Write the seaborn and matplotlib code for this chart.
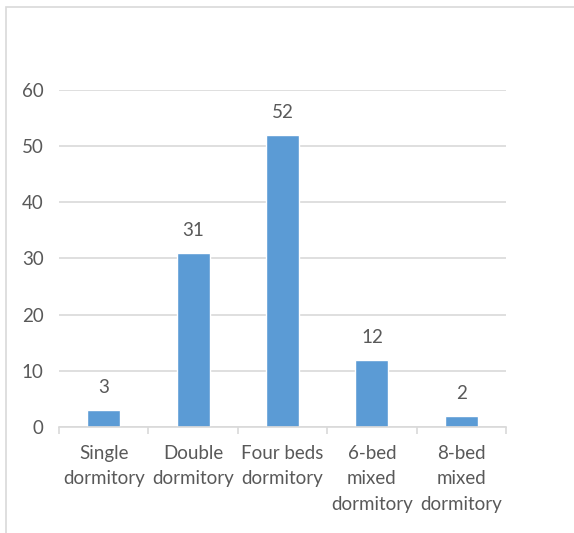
import matplotlib
matplotlib.use("Agg")
import matplotlib.pyplot as plt
import seaborn as sns
import pandas as pd
from matplotlib.patches import Rectangle
from matplotlib.ticker import FixedLocator

categories = ["Single\ndormitory", "Double\ndormitory", "Four beds\ndormitory",
              "6-bed\nmixed\ndormitory", "8-bed\nmixed\ndormitory"]
counts = [3, 31, 52, 12, 2]
y_ticks = [0, 10, 20, 30, 40, 50, 60]

sns.set_theme(style="white")
plt.rcParams["font.family"] = ["Lato", "DejaVu Sans"]

text_color = "#595959"
grid_color = "#d9d9d9"
bar_color = "#5b9bd5"
font_size = 13.5

df = pd.DataFrame({"room": categories, "count": counts})

fig = plt.figure(figsize=(5.74, 5.33), dpi=100)
fig.patch.set_facecolor("white")
fig.patches.append(Rectangle((6 / 574, -0.1), 1.2, 1 - 7 / 533 + 0.1,
                             transform=fig.transFigure, fill=False,
                             edgecolor=grid_color, linewidth=1.2))

ax = fig.add_axes([0.1028, 0.1989, 0.7787, 0.6323])
sns.barplot(data=df, x="room", y="count", color=bar_color, width=0.37,
            saturation=1, ax=ax)

ax.set_ylim(0, 60)
ax.set_xlim(-0.5, len(categories) - 0.5)
ax.set_yticks(y_ticks)
ax.yaxis.grid(True, color=grid_color, linewidth=1.2)
ax.set_axisbelow(True)
for side in ["top", "right", "left"]:
    ax.spines[side].set_visible(False)
ax.spines["bottom"].set_color(grid_color)
ax.spines["bottom"].set_linewidth(1.2)

ax.set_xlabel("")
ax.set_ylabel("")
ax.tick_params(axis="y", length=0, pad=11, labelsize=font_size, labelcolor=text_color)
ax.tick_params(axis="x", which="major", length=0, pad=13, labelsize=font_size,
               labelcolor=text_color)
for lbl in ax.get_xticklabels():
    lbl.set_linespacing(1.6)
    lbl.set_verticalalignment("top")
ax.xaxis.set_minor_locator(FixedLocator([i - 0.5 for i in range(len(categories) + 1)]))
ax.tick_params(axis="x", which="minor", length=5, color=grid_color, width=1.2,
               direction="out", bottom=True)

for i, v in enumerate(counts):
    ax.annotate(str(v), (i, v), xytext=(0, 10), textcoords="offset points",
                ha="center", va="bottom", fontsize=font_size, color=text_color)

fig.savefig("out.png", dpi=100)
